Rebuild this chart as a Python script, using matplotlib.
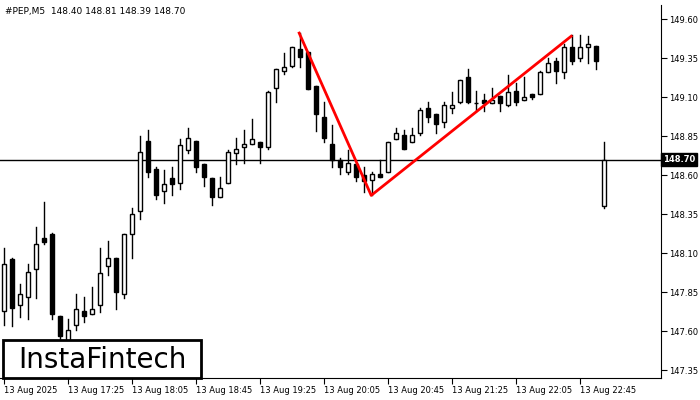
import matplotlib
matplotlib.use("Agg")
import matplotlib.pyplot as plt
from matplotlib.patches import Rectangle

opens = [147.73,148.06,147.77,147.82,148.00,148.20,148.22,147.70,147.54,147.64,147.73,147.71,147.77,148.02,148.07,147.84,148.22,148.37,148.82,148.64,
148.50,148.58,148.55,148.76,148.82,148.67,148.58,148.46,148.55,148.74,148.78,148.80,148.81,148.78,149.16,149.27,149.30,149.41,149.39,149.17,
148.97,148.80,148.70,148.62,148.67,148.60,148.57,148.61,148.62,148.83,148.86,148.81,148.87,149.03,148.99,148.94,149.03,149.07,149.23,149.06,
149.08,149.06,149.11,149.05,149.14,149.08,149.12,149.12,149.26,149.33,149.26,149.42,149.35,149.42,149.43,148.40]
highs = [148.13,148.07,147.90,148.03,148.27,148.43,148.23,147.70,147.68,147.84,147.82,147.88,148.13,148.18,148.07,148.22,148.39,148.85,148.89,148.65,
148.63,148.65,148.83,148.90,148.82,148.67,148.58,148.59,148.76,148.84,148.89,148.96,148.81,149.14,149.28,149.38,149.42,149.51,149.39,149.17,
149.07,148.92,148.71,148.76,148.67,148.65,148.62,148.70,148.81,148.90,148.89,148.90,149.03,149.07,148.99,149.07,149.13,149.21,149.28,149.14,
149.12,149.16,149.11,149.24,149.19,149.23,149.12,149.27,149.35,149.35,149.44,149.50,149.50,149.49,149.43,148.81]
lows = [147.64,147.63,147.69,147.68,147.81,148.16,147.68,147.53,147.51,147.61,147.66,147.71,147.72,147.96,147.74,147.81,148.07,148.32,148.59,148.45,
148.42,148.47,148.51,148.74,148.62,148.53,148.41,148.46,148.55,148.67,148.68,148.80,148.68,148.77,149.07,149.25,149.29,149.29,149.15,148.88,
148.81,148.65,148.61,148.61,148.56,148.49,148.47,148.59,148.62,148.83,148.77,148.81,148.86,148.94,148.87,148.91,149.00,149.06,149.06,149.01,
149.01,149.06,149.01,149.04,149.05,149.08,149.09,149.12,149.26,149.19,149.22,149.31,149.33,149.32,149.28,148.39]
closes = [148.03,147.75,147.84,147.98,148.16,148.17,147.71,147.57,147.61,147.74,147.70,147.74,147.97,148.07,147.85,148.22,148.35,148.75,148.62,148.47,
148.54,148.54,148.79,148.84,148.65,148.59,148.46,148.52,148.75,148.77,148.80,148.83,148.78,149.13,149.28,149.29,149.42,149.36,149.15,148.99,
148.84,148.70,148.65,148.68,148.59,148.56,148.61,148.59,148.81,148.87,148.77,148.86,149.02,148.97,148.93,149.05,149.05,149.21,149.07,149.06,
149.06,149.08,149.06,149.13,149.07,149.10,149.10,149.26,149.32,149.27,149.42,149.33,149.42,149.44,149.33,148.70]

pattern_x = [36.9, 45.9, 70.9]
pattern_y = [149.51, 148.47, 149.49]
current_price = 148.70
y_ticks = [149.60, 149.35, 149.10, 148.85, 148.60, 148.35, 148.10, 147.85, 147.60, 147.35]
x_tick_idx = [0, 8, 16, 24, 32, 40, 48, 56, 64, 72]
x_tick_labels = ["13 Aug 2025", "13 Aug 17:25", "13 Aug 18:05", "13 Aug 18:45", "13 Aug 19:25",
                 "13 Aug 20:05", "13 Aug 20:45", "13 Aug 21:25", "13 Aug 22:05", "13 Aug 22:45"]

fig = plt.figure(figsize=(7, 4), dpi=100)
ax = fig.add_axes([0.0, 0.055, 0.944, 0.9325])
w = 0.6
for i, (o, h, l, c) in enumerate(zip(opens, highs, lows, closes)):
    ax.plot([i, i], [l, h], color="black", lw=1, zorder=2)
    bottom, top = min(o, c), max(o, c)
    hgt = max(top - bottom, 0.004)
    ax.add_patch(Rectangle((i - w / 2, bottom), w, hgt, facecolor="white" if c >= o else "black",
                           edgecolor="black", lw=1, zorder=3))

ax.axhline(current_price, color="black", lw=1, zorder=1)
ax.plot(pattern_x, pattern_y, color="red", lw=2, zorder=4)

ax.set_xlim(-0.5, 82.1)
ax.set_ylim(147.30, 149.69)
ax.yaxis.tick_right()
ax.set_yticks(y_ticks)
ax.set_yticklabels([f"{v:.2f}" for v in y_ticks], fontsize=6)
ax.set_xticks(x_tick_idx)
ax.set_xticklabels(x_tick_labels, fontsize=6, ha="left")
ax.tick_params(axis="x", length=4, pad=2)
ax.tick_params(axis="y", length=4, pad=2)
for s in ["top", "left"]:
    ax.spines[s].set_visible(False)

ax.text(1.003, current_price, f"{current_price:.2f}", transform=ax.get_yaxis_transform(),
        fontsize=6, color="white", va="center", ha="left", fontweight="bold",
        bbox=dict(boxstyle="square,pad=0.25", facecolor="black", edgecolor="black"))

fig.text(0.007, 0.972, "#PEP,M5  148.40 148.81 148.39 148.70", fontsize=6.5, va="center")

fig.patches.append(Rectangle((3 / 700, 0.055), 198 / 700, 38 / 400, transform=fig.transFigure,
                             facecolor="white", edgecolor="black", lw=2, zorder=10))
fig.text(102 / 700, 0.1, "InstaFintech", fontsize=20, ha="center", va="center", zorder=11)

fig.savefig("out.png", dpi=100)
